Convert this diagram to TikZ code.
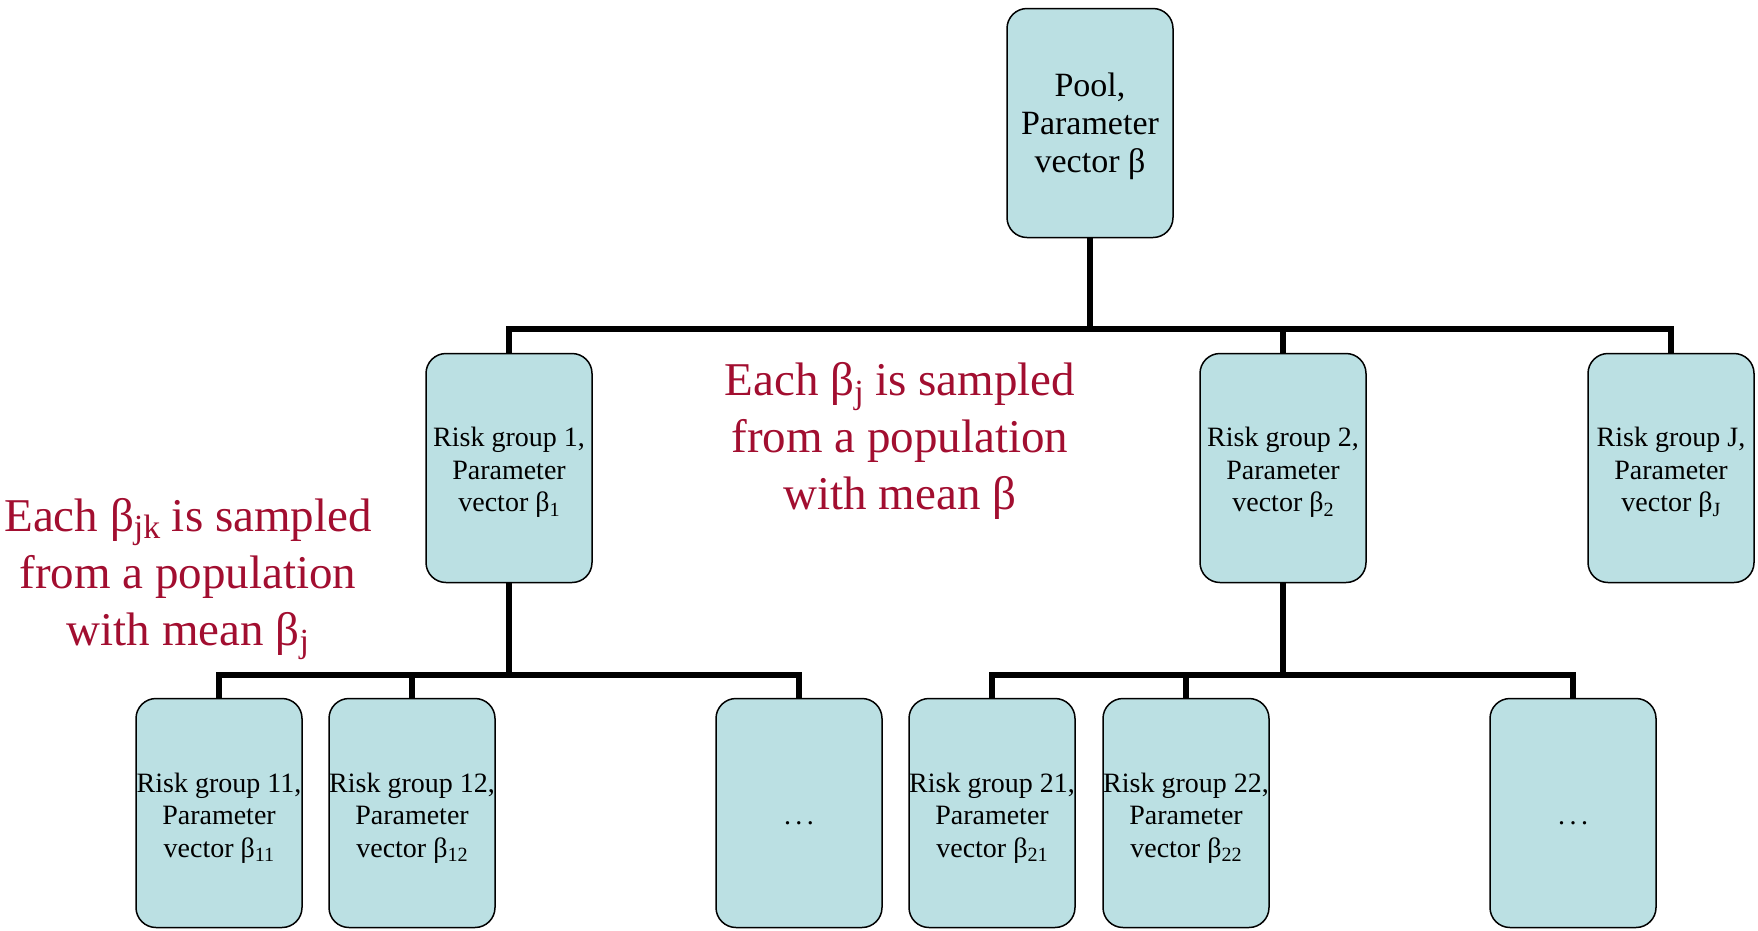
\documentclass[tikz,border=0pt]{standalone}
\usepackage{fontspec}
\setmainfont{Liberation Serif}
\definecolor{boxfill}{RGB}{187,224,227}
\definecolor{redtxt}{RGB}{162,14,48}
\newcommand\sbs[1]{\raisebox{-0.35ex}{\scalebox{0.72}{#1}}}
\begin{document}
\begin{tikzpicture}[x=1pt,y=-1pt,
  grp/.style={draw=black,line width=1.5pt,fill=boxfill,rounded corners=20pt,
    minimum width=166pt,minimum height=229pt,inner sep=0pt},
  gtxt/.style={align=center,inner sep=0pt,font=\fontsize{28}{32.5}\selectfont},
  conn/.style={line width=5.8pt,line join=miter},
  note/.style={text=redtxt,align=center,font=\fontsize{47}{57}\selectfont}]
\useasboundingbox (0,0) rectangle (1758,930);
% top
\node[grp,label={[gtxt,font=\fontsize{34}{38}\selectfont,yshift=-3.5pt]center:{Pool,\\Parameter\\vector β}}] (pool) at (1090,123) {};
% middle
\node[grp,label={[gtxt,yshift=-4.5pt]center:{Risk group 1,\\Parameter\\vector β\sbs{1}}}] (rg1) at (509,468) {};
\node[grp,label={[gtxt,yshift=-4.5pt]center:{Risk group 2,\\Parameter\\vector β\sbs{2}}}] (rg2) at (1283,468) {};
\node[grp,label={[gtxt,yshift=-4.5pt]center:{Risk group J,\\Parameter\\vector β\sbs{J}}}] (rgJ) at (1671,468) {};
% bottom
\node[grp,label={[gtxt,yshift=-5pt]center:{Risk group 11,\\Parameter\\vector β\sbs{11}}}] (rg11) at (219,813) {};
\node[grp,label={[gtxt,yshift=-5pt]center:{Risk group 12,\\Parameter\\vector β\sbs{12}}}] (rg12) at (412,813) {};
\node[grp] (d1) at (799,813) {};
\node[grp,label={[gtxt,yshift=-5pt]center:{Risk group 21,\\Parameter\\vector β\sbs{21}}}] (rg21) at (992,813) {};
\node[grp,label={[gtxt,yshift=-5pt]center:{Risk group 22,\\Parameter\\vector β\sbs{22}}}] (rg22) at (1186,813) {};
\node[grp] (d2) at (1573,813) {};
\node[gtxt,anchor=base] (d1t) at ([yshift=-11pt]d1.center) {.\kern4.5pt.\kern4.5pt.};
\node[gtxt,anchor=base] (d2t) at ([yshift=-11pt]d2.center) {.\kern4.5pt.\kern4.5pt.};
% buses
\coordinate (t1) at (0,329);
\coordinate (t2) at (0,675);
\draw[conn] (pool.south) -- (pool.south |- t1);
\draw[conn] (rg1.north) -- (rg1.north |- t1) -- (rgJ.north |- t1) -- (rgJ.north);
\draw[conn] (rg2.north) -- (rg2.north |- t1);
\draw[conn] (rg1.south) -- (rg1.south |- t2);
\draw[conn] (rg11.north) -- (rg11.north |- t2) -- (d1.north |- t2) -- (d1.north);
\draw[conn] (rg12.north) -- (rg12.north |- t2);
\draw[conn] (rg2.south) -- (rg2.south |- t2);
\draw[conn] (rg21.north) -- (rg21.north |- t2) -- (d2.north |- t2) -- (d2.north);
\draw[conn] (rg22.north) -- (rg22.north |- t2);
% notes
\node[note] (n1) at (900,441) {Each β\sbs{j} is sampled\\from a population\\with mean β};
\node[note] (n2) at (188,579) {Each β\sbs{jk} is sampled\\from a population\\with mean β\sbs{j}};
\end{tikzpicture}
\end{document}
